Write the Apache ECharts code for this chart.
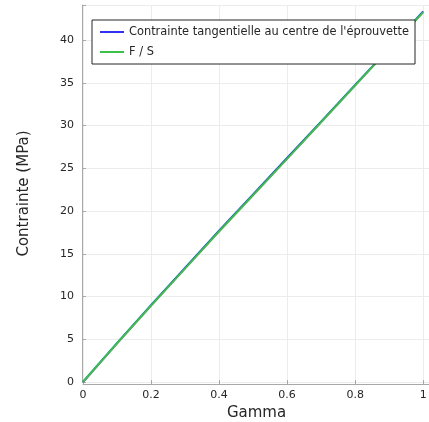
<!DOCTYPE html>
<html>
<head>
<meta charset="utf-8">
<script src="https://cdn.jsdelivr.net/npm/echarts@6/dist/echarts.min.js"></script>
<style>
html,body{margin:0;padding:0;background:#fff;}
#c{width:429px;height:422px;}
</style>
</head>
<body>
<div id="c"></div>
<script>
const gamma = [0, 0.1, 0.2, 0.3, 0.4, 0.5, 0.6, 0.7, 0.8, 0.9, 1.0];
const tangentialStress = [0, 4.55, 9.0, 13.35, 17.7, 21.95, 26.2, 30.45, 34.75, 39.0, 43.35];
const forceOverSection = [0, 4.5, 8.92, 13.27, 17.6, 21.85, 26.1, 30.38, 34.68, 38.96, 43.25];
const xTicks = [0, 0.2, 0.4, 0.6, 0.8, 1];
const yTicks = [0, 5, 10, 15, 20, 25, 30, 35, 40];
const seriesNames = ["Contrainte tangentielle au centre de l'éprouvette", "F / S"];

const font = 'DejaVu Sans';
const pair = (xs, ys) => xs.map((x, i) => [x, ys[i]]);

const chart = echarts.init(document.getElementById('c'), null, {renderer: 'canvas'});
chart.setOption({
  animation: false,
  backgroundColor: '#ffffff',
  grid: {left: 83, right: -1, top: 5, bottom: 40, containLabel: false, outerBoundsMode: 'none'},
  legend: {
    orient: 'vertical',
    left: 92, top: 20,
    backgroundColor: '#ffffff',
    borderColor: '#262626',
    borderWidth: 1,
    borderRadius: 0,
    padding: [5, 6, 5, 8],
    itemWidth: 24, itemHeight: 2, itemGap: 6,
    icon: 'rect',
    textStyle: {fontFamily: font, fontSize: 11.4, color: '#262626', lineHeight: 14},
    data: seriesNames
  },
  xAxis: {
    type: 'value', min: 0, max: 1.02, interval: 0.2,
    offset: 2,
    name: 'Gamma', nameLocation: 'middle', nameGap: 18,
    nameTextStyle: {fontFamily: font, fontSize: 15, color: '#262626'},
    axisLine: {show: true, onZero: false, lineStyle: {color: '#a8a8a8', width: 1}},
    axisTick: {show: true, inside: true, length: 4, lineStyle: {color: '#a8a8a8'}},
    axisLabel: {fontFamily: font, fontSize: 11, color: '#262626', margin: 6,
      customValues: xTicks, formatter: v => String(+v.toFixed(1))},
    splitLine: {show: true, lineStyle: {color: '#ececec', width: 1}}
  },
  yAxis: {
    type: 'value', min: 0, max: 44.1, interval: 5,
    offset: 1,
    name: 'Contrainte (MPa)', nameLocation: 'middle', nameGap: 50,
    nameTextStyle: {fontFamily: font, fontSize: 15, color: '#262626'},
    axisLine: {show: true, onZero: false, lineStyle: {color: '#a8a8a8', width: 1}},
    axisTick: {show: true, inside: true, length: 4, lineStyle: {color: '#a8a8a8'}},
    axisLabel: {fontFamily: font, fontSize: 11, color: '#262626', margin: 8,
      customValues: yTicks},
    splitLine: {show: true, lineStyle: {color: '#ececec', width: 1}}
  },
  series: [
    {
      name: seriesNames[0], type: 'line', data: pair(gamma, tangentialStress),
      showSymbol: false, symbol: 'none', smooth: false, z: 2,
      lineStyle: {color: '#3030f0', width: 2}, itemStyle: {color: '#3030f0'}
    },
    {
      name: seriesNames[1], type: 'line', data: pair(gamma, forceOverSection),
      showSymbol: false, symbol: 'none', smooth: false, z: 3,
      lineStyle: {color: '#3cbf4c', width: 2}, itemStyle: {color: '#3cbf4c'}
    }
  ]
});
</script>
</body>
</html>
